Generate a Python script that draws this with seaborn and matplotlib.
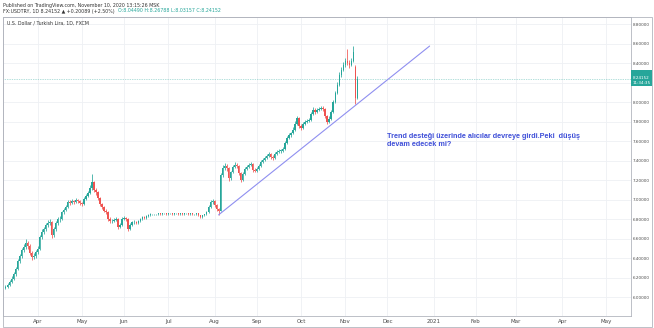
import matplotlib
matplotlib.use("Agg")
import matplotlib.pyplot as plt
from matplotlib.patches import Rectangle
from matplotlib.transforms import blended_transform_factory
import numpy as np
import pandas as pd
import seaborn as sns

# ---- daily USD/TRY sessions (weekdays), first session 2020-03-10 ----
first_session = "2020-03-10"

opens = [
    6.10, 6.11, 6.13, 6.16, 6.19, 6.24, 6.29, 6.37, 6.42, 6.48,
    6.52, 6.56, 6.53, 6.45, 6.41, 6.42, 6.46, 6.50, 6.62, 6.67,
    6.70, 6.74, 6.76, 6.77, 6.64, 6.70, 6.76, 6.80, 6.80, 6.87,
    6.90, 6.93, 6.98, 6.97, 6.99, 6.98, 7.00, 6.99, 6.97, 6.96,
    7.01, 7.04, 7.07, 7.12, 7.18, 7.10, 7.08, 7.02, 6.96, 6.93,
    6.89, 6.87, 6.80, 6.78, 6.78, 6.79, 6.80, 6.72, 6.74, 6.80,
    6.81, 6.80, 6.70, 6.74, 6.77, 6.77, 6.76, 6.78, 6.80, 6.82,
    6.81, 6.83, 6.84, 6.85, 6.85, 6.85, 6.85, 6.86, 6.85, 6.86,
    6.86, 6.85, 6.86, 6.86, 6.85, 6.86, 6.86, 6.85, 6.86, 6.85,
    6.86, 6.86, 6.85, 6.86, 6.85, 6.85, 6.86, 6.84, 6.82, 6.84,
    6.85, 6.87, 6.93, 6.98, 6.99, 6.95, 6.91, 6.89, 7.25, 7.33,
    7.35, 7.33, 7.22, 7.28, 7.34, 7.36, 7.35, 7.27, 7.20, 7.26,
    7.32, 7.34, 7.36, 7.37, 7.31, 7.30, 7.32, 7.35, 7.39, 7.41,
    7.43, 7.45, 7.47, 7.44, 7.43, 7.47, 7.49, 7.50, 7.50, 7.52,
    7.58, 7.63, 7.66, 7.68, 7.72, 7.78, 7.84, 7.76, 7.74, 7.78,
    7.80, 7.81, 7.82, 7.88, 7.92, 7.90, 7.92, 7.93, 7.94, 7.93,
    7.86, 7.80, 7.83, 7.90, 8.00, 8.10, 8.18, 8.28, 8.33, 8.38,
    8.42, 8.40, 8.38, 8.42, 8.36, 8.04490,
]
highs = [
    6.13, 6.15, 6.18, 6.22, 6.26, 6.31, 6.39, 6.44, 6.51, 6.55,
    6.60, 6.58, 6.55, 6.47, 6.45, 6.49, 6.53, 6.64, 6.70, 6.72,
    6.76, 6.79, 6.80, 6.78, 6.72, 6.78, 6.82, 6.83, 6.89, 6.92,
    6.95, 7.00, 7.00, 7.01, 7.00, 7.02, 7.01, 7.00, 6.98, 7.03,
    7.06, 7.09, 7.15, 7.26, 7.19, 7.12, 7.09, 7.03, 6.97, 6.94,
    6.91, 6.88, 6.82, 6.80, 6.81, 6.82, 6.81, 6.76, 6.82, 6.83,
    6.82, 6.81, 6.76, 6.78, 6.79, 6.78, 6.79, 6.81, 6.83, 6.83,
    6.84, 6.85, 6.86, 6.857, 6.857, 6.857, 6.865, 6.865, 6.865, 6.867,
    6.865, 6.865, 6.867, 6.865, 6.865, 6.867, 6.865, 6.865, 6.865, 6.865,
    6.867, 6.865, 6.865, 6.865, 6.857, 6.865, 6.865, 6.845, 6.845, 6.855,
    6.88, 6.95, 7.00, 7.01, 7.00, 6.96, 6.92, 7.27, 7.36, 7.38,
    7.37, 7.34, 7.30, 7.36, 7.39, 7.38, 7.36, 7.29, 7.28, 7.34,
    7.36, 7.38, 7.39, 7.38, 7.33, 7.34, 7.37, 7.41, 7.43, 7.45,
    7.47, 7.49, 7.48, 7.46, 7.49, 7.51, 7.52, 7.52, 7.54, 7.60,
    7.65, 7.68, 7.70, 7.75, 7.81, 7.86, 7.85, 7.78, 7.80, 7.82,
    7.83, 7.84, 7.90, 7.95, 7.94, 7.94, 7.95, 7.96, 7.96, 7.94,
    7.87, 7.86, 7.92, 8.02, 8.12, 8.21, 8.31, 8.36, 8.41, 8.45,
    8.55, 8.43, 8.45, 8.58, 8.38, 8.26788,
]
lows = [
    6.08, 6.10, 6.12, 6.15, 6.18, 6.22, 6.28, 6.35, 6.40, 6.46,
    6.50, 6.50, 6.43, 6.38, 6.39, 6.40, 6.44, 6.49, 6.60, 6.65,
    6.68, 6.72, 6.74, 6.61, 6.62, 6.68, 6.74, 6.77, 6.79, 6.85,
    6.88, 6.92, 6.95, 6.96, 6.96, 6.97, 6.97, 6.95, 6.94, 6.95,
    7.00, 7.03, 7.06, 7.10, 7.08, 7.05, 7.00, 6.94, 6.91, 6.87,
    6.85, 6.78, 6.76, 6.76, 6.77, 6.78, 6.70, 6.71, 6.73, 6.79,
    6.78, 6.68, 6.69, 6.73, 6.75, 6.75, 6.75, 6.77, 6.79, 6.80,
    6.80, 6.82, 6.83, 6.843, 6.843, 6.843, 6.845, 6.843, 6.845, 6.853,
    6.843, 6.845, 6.853, 6.843, 6.845, 6.853, 6.843, 6.845, 6.843, 6.845,
    6.853, 6.843, 6.845, 6.843, 6.843, 6.845, 6.835, 6.815, 6.815, 6.835,
    6.84, 6.86, 6.92, 6.96, 6.93, 6.89, 6.845, 6.88, 7.23, 7.31,
    7.30, 7.19, 7.20, 7.27, 7.33, 7.33, 7.25, 7.18, 7.19, 7.25,
    7.31, 7.33, 7.35, 7.29, 7.28, 7.29, 7.31, 7.34, 7.38, 7.40,
    7.42, 7.44, 7.42, 7.41, 7.42, 7.46, 7.48, 7.48, 7.49, 7.51,
    7.57, 7.62, 7.64, 7.67, 7.71, 7.77, 7.74, 7.72, 7.73, 7.77,
    7.79, 7.80, 7.81, 7.87, 7.88, 7.89, 7.91, 7.92, 7.91, 7.84,
    7.78, 7.79, 7.82, 7.89, 7.99, 8.09, 8.17, 8.26, 8.32, 8.36,
    8.38, 8.35, 8.37, 8.41, 7.98, 8.03157,
]
closes = [
    6.11, 6.13, 6.16, 6.19, 6.24, 6.29, 6.37, 6.42, 6.48, 6.52,
    6.56, 6.53, 6.45, 6.41, 6.42, 6.46, 6.50, 6.62, 6.67, 6.70,
    6.74, 6.76, 6.77, 6.64, 6.70, 6.76, 6.80, 6.80, 6.87, 6.90,
    6.93, 6.98, 6.97, 6.99, 6.98, 7.00, 6.99, 6.97, 6.96, 7.01,
    7.04, 7.07, 7.12, 7.18, 7.10, 7.08, 7.02, 6.96, 6.93, 6.89,
    6.87, 6.80, 6.78, 6.78, 6.79, 6.80, 6.72, 6.74, 6.80, 6.81,
    6.80, 6.70, 6.74, 6.77, 6.77, 6.76, 6.78, 6.80, 6.82, 6.81,
    6.83, 6.84, 6.85, 6.85, 6.85, 6.85, 6.86, 6.85, 6.86, 6.86,
    6.85, 6.86, 6.86, 6.85, 6.86, 6.86, 6.85, 6.86, 6.85, 6.86,
    6.86, 6.85, 6.86, 6.85, 6.85, 6.86, 6.84, 6.82, 6.84, 6.85,
    6.87, 6.93, 6.98, 6.99, 6.95, 6.91, 6.89, 7.25, 7.33, 7.35,
    7.33, 7.22, 7.28, 7.34, 7.36, 7.35, 7.27, 7.20, 7.26, 7.32,
    7.34, 7.36, 7.37, 7.31, 7.30, 7.32, 7.35, 7.39, 7.41, 7.43,
    7.45, 7.47, 7.44, 7.43, 7.47, 7.49, 7.50, 7.50, 7.52, 7.58,
    7.63, 7.66, 7.68, 7.72, 7.78, 7.84, 7.76, 7.74, 7.78, 7.80,
    7.81, 7.82, 7.88, 7.92, 7.90, 7.92, 7.93, 7.94, 7.93, 7.86,
    7.80, 7.83, 7.90, 8.00, 8.10, 8.18, 8.28, 8.33, 8.38, 8.42,
    8.40, 8.38, 8.42, 8.52, 8.04063, 8.24152,
]

# time axis labels (first trading day of each month)
month_labels = ["Apr", "May", "Jun", "Jul", "Aug", "Sep", "Oct",
                "Nov", "Dec", "2021", "Feb", "Mar", "Apr", "May"]
month_starts = ["2020-04-01", "2020-05-01", "2020-06-01", "2020-07-01",
                "2020-08-03", "2020-09-01", "2020-10-01", "2020-11-02",
                "2020-12-01", "2021-01-01", "2021-02-01", "2021-03-01",
                "2021-04-01", "2021-05-03"]
price_ticks = [6.0, 6.2, 6.4, 6.6, 6.8, 7.0, 7.2, 7.4, 7.6, 7.8,
               8.0, 8.2, 8.4, 8.6, 8.8]

# support trendline drawn on the chart
trend_dates = ["2020-08-05", "2020-12-30"]
trend_prices = [6.845, 8.577]

note_date = "2020-12-01"
note_price = 7.69
note_text = "Trend desteği üzerinde alıcılar devreye girdi.Peki  düşüş\ndevam edecek mi?"

UP = "#26a69a"
DOWN = "#ef5350"
FRAME = "#b2b5be"
GRID = "#eef0f4"
TXT = "#4a4a4a"

sns.set_theme(style="white")
plt.rcParams["font.family"] = ["DejaVu Sans"]

W, H = 654, 328
fig = plt.figure(figsize=(W / 100, H / 100), dpi=100)
fig.patch.set_facecolor("white")

# plot area in pixels: x 3..631, y 17..316 (from top)
ax = fig.add_axes([3 / W, (H - 316) / H, 628 / W, 299 / H])

sessions = pd.bdate_range(first_session, "2021-06-30")
pos = {d: i for i, d in enumerate(sessions)}

o = np.array(opens)
hi = np.array(highs)
lo = np.array(lows)
c = np.array(closes)
x = np.arange(len(c))
up = c >= o
colors = np.where(up, UP, DOWN)

# candle wicks and bodies
ax.vlines(x, lo, hi, colors=colors, linewidth=0.55, zorder=3)
body_bottom = np.minimum(o, c)
body_height = np.maximum(np.abs(c - o), 0.006)
ax.bar(x, body_height, bottom=body_bottom, width=0.62, color=colors,
       linewidth=0, zorder=4)

# last price line
ax.axhline(c[-1], color=UP, linewidth=0.5, linestyle=(0, (1, 1.5)),
           alpha=0.7, zorder=2)

# trendline
trend = pd.DataFrame({"x": [pos[pd.Timestamp(d)] for d in trend_dates],
                      "price": trend_prices})
sns.lineplot(data=trend, x="x", y="price", ax=ax, color="#8f8ff0",
             linewidth=0.8, zorder=5)

# note
ax.text(pos[pd.Timestamp(note_date)], note_price, note_text,
        color="#3f4fd8", fontsize=5.2, fontweight="bold", va="top",
        ha="left", linespacing=1.2, zorder=6,
        family=["Liberation Sans Narrow", "Liberation Sans", "DejaVu Sans"])

# axes ranges
ax.set_xlim(-1.24, 311.2)
ax.set_ylim(5.808, 8.875)

xt = [pos[pd.Timestamp(d)] for d in month_starts]
ax.set_xticks(xt)
ax.set_xticklabels(month_labels)
ax.set_yticks(price_ticks)
ax.set_yticklabels([f"{v:.5f}" for v in price_ticks])
ax.yaxis.tick_right()
ax.tick_params(axis="both", length=0, labelcolor=TXT)
ax.tick_params(axis="x", pad=2.2, labelsize=4)
ax.tick_params(axis="y", pad=1.2, labelsize=3.0)
ax.set_xlabel("")
ax.set_ylabel("")
ax.grid(True, color=GRID, linewidth=0.6)
ax.set_axisbelow(True)
for s in ax.spines.values():
    s.set_color(FRAME)
    s.set_linewidth(0.6)

# outer frame of the chart panel
fig.patches.append(Rectangle((3 / W, 1 / H), 649 / W, 310 / H,
                             transform=fig.transFigure, fill=False,
                             edgecolor=FRAME, linewidth=0.6))

# last price badge on the price scale
tr = blended_transform_factory(ax.transAxes, ax.transData)
ax.add_patch(Rectangle((1.0, c[-1] - 0.075), 21 / 628, 0.16,
                       transform=tr, facecolor=UP, edgecolor="none",
                       clip_on=False, zorder=10))
ax.text(1.0 + 10.5 / 628, c[-1] + 0.005, f"{c[-1]:.5f}", transform=tr,
        color="white", fontsize=3.0, ha="center", va="center",
        clip_on=False, zorder=11)
ax.text(1.0 + 10.5 / 628, c[-1] - 0.045, "11:34:35", transform=tr,
        color="white", fontsize=3.0, ha="center", va="center",
        clip_on=False, zorder=11)
# hide the tick label under the badge
for lbl, v in zip(ax.get_yticklabels(), price_ticks):
    if abs(v - 8.2) < 1e-9:
        lbl.set_visible(False)

# header lines
change = c[-1] - c[-2]
pct = change / c[-2] * 100
hdr = dict(fontsize=3.4, va="center", ha="left")
fig.text(3 / W, 1 - 5 / H,
         "Published on TradingView.com, November 10, 2020 13:15:26 MSK",
         color="#333333", **hdr)
head = f"FX:USDTRY, 1D {c[-1]:.5f} \u25b2 +{change:.5f} (+{pct:.2f}%)"
t1 = fig.text(3 / W, 1 - 11 / H, head, color="#333333", **hdr)
renderer = fig.canvas.get_renderer()
x_end = t1.get_window_extent(renderer).x1
fig.text((x_end + 3) / W, 1 - 11 / H,
         f"O:{o[-1]:.5f} H:{hi[-1]:.5f} L:{lo[-1]:.5f} C:{c[-1]:.5f}",
         color=UP, **hdr)
fig.text(7 / W, 1 - 23 / H, "U.S. Dollar / Turkish Lira, 1D, FXCM",
         color="#333333", **hdr)

fig.savefig("out.png", dpi=100, facecolor="white")
